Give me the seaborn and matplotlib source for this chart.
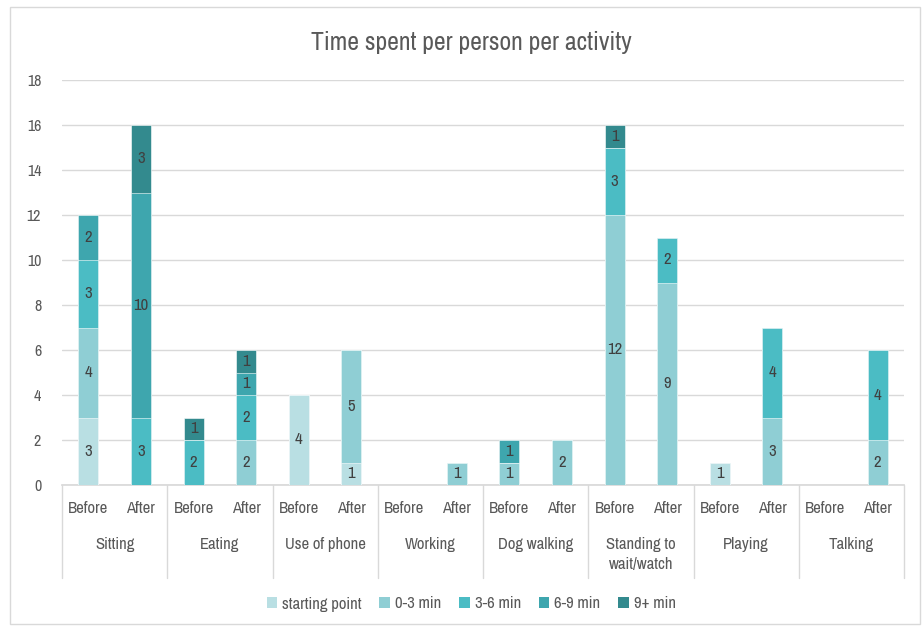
import numpy as np
import seaborn as sns
import matplotlib.pyplot as plt
from matplotlib.patches import Patch, Rectangle
from matplotlib.transforms import blended_transform_factory

activities = ["Sitting", "Eating", "Use of phone", "Working", "Dog walking",
              "Standing to\nwait/watch", "Playing", "Talking"]
phases = ["Before", "After"]
levels = ["starting point", "0-3 min", "3-6 min", "6-9 min", "9+ min"]
colors = ["#b9dfe3", "#8fced4", "#4bbcc4", "#3ea6ae", "#338a8e"]

# one value per bar: Sitting B, Sitting A, Eating B, Eating A, ...
starting = [3, 0, 0, 0, 4, 1, 0, 0, 0, 0, 0, 0, 1, 0, 0, 0]
min0_3 = [4, 0, 0, 2, 0, 5, 0, 1, 1, 2, 12, 9, 0, 3, 0, 2]
min3_6 = [3, 3, 2, 2, 0, 0, 0, 0, 0, 0, 3, 2, 0, 4, 0, 4]
min6_9 = [2, 10, 0, 1, 0, 0, 0, 0, 1, 0, 0, 0, 0, 0, 0, 0]
min9p = [0, 3, 1, 1, 0, 0, 0, 0, 0, 0, 1, 0, 0, 0, 0, 0]

sns.set_theme(style="white")
plt.rcParams["font.family"] = ["Archivo Narrow", "Liberation Sans Narrow", "DejaVu Sans"]
grey = "#595959"

series = np.array([starting, min0_3, min3_6, min6_9, min9p])
tops = series.cumsum(axis=0)
bar_ids = [f"{a}|{p}" for a in activities for p in phases]

fig = plt.figure(figsize=(9.24, 6.29), dpi=100)
ax = fig.add_axes([62 / 924, 1 - 485 / 629, 842 / 924, 405 / 629])

# stacked look: draw cumulative totals from the top layer down
for i in range(len(levels) - 1, -1, -1):
    sns.barplot(x=bar_ids, y=tops[i], order=bar_ids, color=colors[i],
                saturation=1, width=0.38, errorbar=None, ax=ax,
                edgecolor="white", linewidth=0.4, zorder=3)

for i in range(len(levels)):
    for j, v in enumerate(series[i]):
        if v > 0:
            ax.text(j, tops[i][j] - v / 2, str(v), ha="center", va="center",
                    fontsize=12, color="#404040", zorder=5)

ax.set_ylim(0, 18)
ax.set_xlim(-0.5, len(bar_ids) - 0.5)
ax.set_yticks(range(0, 19, 2))
ax.tick_params(axis="y", labelsize=11.5, labelcolor=grey, length=0, pad=15)
ax.yaxis.grid(True, color="#d9d9d9", linewidth=1, zorder=0)
ax.set_axisbelow(True)
for s in ["left", "right", "top"]:
    ax.spines[s].set_visible(False)
ax.spines["bottom"].set_color("#d9d9d9")
ax.set_xlabel("")
ax.set_ylabel("")
ax.set_xticks([])

trans = blended_transform_factory(ax.transData, ax.transAxes)
for j, b in enumerate(bar_ids):
    ax.text(j, -0.058, b.split("|")[1], transform=trans, ha="center",
            va="center", fontsize=12, color=grey)
for k, a in enumerate(activities):
    ax.text(2 * k + 0.5, -0.128, a, transform=trans, ha="center", va="top",
            fontsize=12, color=grey, linespacing=1.45)
for k in range(len(activities) + 1):
    ax.plot([2 * k - 0.5, 2 * k - 0.5], [0, -0.23], transform=trans,
            color="#d9d9d9", linewidth=1, clip_on=False)

handles = [Patch(facecolor=c, edgecolor="none") for c in colors]
fig.legend(handles, levels, loc="center", bbox_to_anchor=(0.51, 1 - 604 / 629),
           ncol=5, frameon=False, fontsize=12, labelcolor=grey,
           handlelength=0.65, handleheight=0.65, columnspacing=1.05,
           handletextpad=0.3)

fig.text(0.51, 1 - 42 / 629, "Time spent per person per activity",
         ha="center", va="center", fontsize=18.5, color=grey)

fig.patches.append(Rectangle((10 / 924, 1 - 624 / 629), 910 / 924, 617 / 629,
                             transform=fig.transFigure, fill=False,
                             edgecolor="#d9d9d9", linewidth=1))

fig.savefig("out.png", dpi=100)
